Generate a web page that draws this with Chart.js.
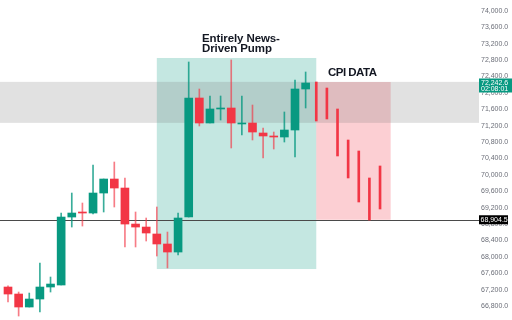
<!DOCTYPE html>
<html>
<head>
<meta charset="utf-8">
<script src="https://cdn.jsdelivr.net/npm/chart.js@4.4.1/dist/chart.umd.min.js"></script>
<style>
    html, body { margin: 0; padding: 0; background: #fff; }
    #wrap { width: 512px; height: 320px; }
</style>
</head>
<body>
<div id="wrap"><canvas id="chartBtc" width="512" height="320"></canvas></div>
<script>
// candles, oldest first (index = bar number)
const opens  = [67263, 67092, 66775, 66970, 67263, 67312, 68971, 69094, 69069, 69557, 69899, 69679, 68800, 68727, 68557, 68313, 68117, 68971, 71876, 71266, 71608, 71632, 71242, 71266, 71022, 70949, 70924, 71095, 72096];
const highs  = [67290, 67141, 67116, 67849, 67507, 69069, 69557, 69313, 70241, 69899, 70314, 69924, 69094, 68947, 69216, 68605, 69069, 72755, 72096, 71925, 71925, 72804, 71925, 71705, 71144, 71046, 71535, 72316, 72511];
const lows   = [66897, 66555, 66775, 66653, 67141, 67312, 68727, 68751, 69045, 69094, 69216, 68240, 68240, 68386, 68020, 67727, 68044, 68971, 71193, 71266, 71339, 70656, 70973, 70851, 70412, 70631, 70802, 70436, 71632];
const closes = [67092, 66775, 66970, 67263, 67336, 68971, 69069, 69069, 69557, 69899, 69679, 68800, 68727, 68581, 68313, 68117, 68947, 71876, 71266, 71608, 71632, 71266, 71266, 71046, 70949, 70924, 71095, 72096, 72242.6];

// CPI reaction bars (high / low only), following the candles
const cpiHighs = [72267, 72120, 71608, 70851, 70583, 69924, 70217];
const cpiLows  = [71315, 71364, 70461, 69924, 69338, 68898, 69167];

// price axis
const priceMin = 66458;
const priceMax = 74268;
const priceStep = 400;

// zones: [fromBar, toBar, top, bottom]
const pumpZone = [14, 29, 72853, 67702];
const cpiZone = [29, 36, 72267, 68904.5];
const bandZone = [72270, 71270];

const lastPrice = 72242.6;
const lastTime = '02:08:01';
const markPrice = 68904.5;

const pumpLabel = ['Entirely News-', 'Driven Pump'];
const cpiLabel = 'CPI DATA';

(function() {
    const green = '#089981';
    const red = '#f23645';

    const candleCount = opens.length;
    const bodies = [];
    const wicks = [];
    const bodyColors = [];
    const wickColors = [];
    for (let i = 0; i < candleCount; i++) {
        const up = closes[i] >= opens[i];
        bodies.push({x: i, y: [opens[i], closes[i]]});
        wicks.push({x: i, y: [lows[i], highs[i]]});
        bodyColors.push(up ? green : red);
        wickColors.push(up ? 'rgba(8,153,129,0.8)' : 'rgba(242,54,69,0.65)');
    }
    const cpiBars = cpiHighs.map(function(h, k) {
        return {x: candleCount + k, y: [cpiLows[k], h]};
    });

    function fmt(v) {
        return v.toLocaleString('en-US', {minimumFractionDigits: 1, maximumFractionDigits: 1});
    }

    const overlays = {
        id: 'overlays',
        beforeDatasetsDraw(chart) {
            const ctx = chart.ctx;
            const a = chart.chartArea;
            const x = chart.scales.x;
            const y = chart.scales.y;
            ctx.save();

            // news pump zone
            ctx.fillStyle = 'rgba(8,153,129,0.24)';
            ctx.fillRect(x.getPixelForValue(pumpZone[0]), y.getPixelForValue(pumpZone[2]),
                x.getPixelForValue(pumpZone[1]) - x.getPixelForValue(pumpZone[0]),
                y.getPixelForValue(pumpZone[3]) - y.getPixelForValue(pumpZone[2]));

            // cpi zone
            ctx.fillStyle = 'rgba(242,54,69,0.24)';
            ctx.fillRect(x.getPixelForValue(cpiZone[0]), y.getPixelForValue(cpiZone[2]),
                x.getPixelForValue(cpiZone[1]) - x.getPixelForValue(cpiZone[0]),
                y.getPixelForValue(cpiZone[3]) - y.getPixelForValue(cpiZone[2]));

            // resistance band across the whole chart
            ctx.fillStyle = 'rgba(120,120,120,0.22)';
            ctx.fillRect(a.left, y.getPixelForValue(bandZone[0]), a.right - a.left,
                y.getPixelForValue(bandZone[1]) - y.getPixelForValue(bandZone[0]));

            // mark price line
            const my = Math.round(y.getPixelForValue(markPrice)) + 0.5;
            ctx.strokeStyle = '#4a4a4a';
            ctx.lineWidth = 1;
            ctx.beginPath();
            ctx.moveTo(a.left, my);
            ctx.lineTo(a.right, my);
            ctx.stroke();
            ctx.restore();
        },
        afterDraw(chart) {
            const ctx = chart.ctx;
            const a = chart.chartArea;
            const x = chart.scales.x;
            const y = chart.scales.y;
            ctx.save();

            // zone titles
            ctx.fillStyle = '#131722';
            ctx.textBaseline = 'middle';
            ctx.textAlign = 'left';
            ctx.font = 'bold 11.5px "Liberation Sans", Arial, sans-serif';
            ctx.letterSpacing = '-0.1px';
            ctx.fillText(pumpLabel[0], x.getPixelForValue(18.25), y.getPixelForValue(73330));
            ctx.fillText(pumpLabel[1], x.getPixelForValue(18.25), y.getPixelForValue(73065));
            ctx.letterSpacing = '-0.5px';
            ctx.fillText(cpiLabel, x.getPixelForValue(30.1), y.getPixelForValue(72500));
            ctx.letterSpacing = '0px';

            // last price tag
            const ly = y.getPixelForValue(lastPrice);
            ctx.fillStyle = green;
            ctx.fillRect(a.right, ly - 4.5, 512 - a.right, 14);
            ctx.fillStyle = '#fff';
            ctx.font = '7px "Liberation Sans", Arial, sans-serif';
            ctx.fillText(fmt(lastPrice), a.right + 2, ly + 0.5);
            ctx.fillText(lastTime, a.right + 2, ly + 6.5);

            // mark price tag
            const my = y.getPixelForValue(markPrice);
            ctx.fillStyle = '#000';
            ctx.fillRect(a.right, my - 4.5, 29, 9);
            ctx.fillStyle = '#fff';
            ctx.fillText(fmt(markPrice), a.right + 1.5, my + 0.5);
            ctx.restore();
        }
    };

    new Chart(document.getElementById('chartBtc'), {
        type: 'bar',
        data: {
            datasets: [
                {
                    data: wicks,
                    backgroundColor: wickColors,
                    barThickness: 1,
                    grouped: false,
                    order: 2
                },
                {
                    data: bodies,
                    backgroundColor: bodyColors,
                    barThickness: 8,
                    minBarLength: 1,
                    grouped: false,
                    order: 1
                },
                {
                    data: cpiBars,
                    backgroundColor: red,
                    barThickness: 2,
                    grouped: false,
                    order: 1
                }
            ]
        },
        options: {
            responsive: false,
            animation: false,
            devicePixelRatio: 1,
            layout: { padding: 0 },
            plugins: {
                legend: { display: false },
                tooltip: { enabled: false }
            },
            scales: {
                x: {
                    type: 'linear',
                    display: false,
                    offset: false,
                    min: -0.753,
                    max: 44.31
                },
                y: {
                    position: 'right',
                    min: priceMin,
                    max: priceMax,
                    grid: { display: false, drawTicks: false },
                    border: { display: false },
                    ticks: {
                        stepSize: priceStep,
                        includeBounds: false,
                        padding: 2,
                        color: '#6b6e78',
                        font: { family: '"Liberation Sans", Arial, sans-serif', size: 7 },
                        callback: function(v) { return fmt(v); }
                    },
                    afterFit: function(s) {
                        s.width = 33;
                        s.paddingTop = 0;
                        s.paddingBottom = 0;
                    }
                }
            }
        },
        plugins: [overlays]
    });
})();
</script>
</body>
</html>
